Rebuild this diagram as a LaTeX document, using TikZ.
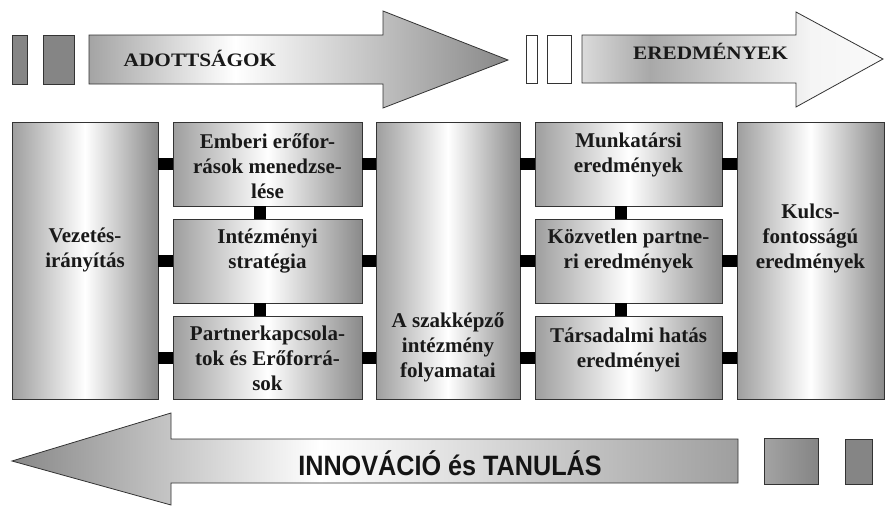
\documentclass[tikz,border=0pt]{standalone}
\usepackage{fontspec}
\setmainfont{Liberation Serif}
\newfontfamily\hdrfont[FakeStretch=1.12]{Liberation Serif}
\newfontfamily\innofont[FakeStretch=0.9]{Liberation Sans}
\begin{document}
\begin{tikzpicture}[x=1pt,y=-1pt,
  outline/.style={draw=black!80, line width=0.8pt},
  box/.style={outline, left color=black!38, right color=black!46, middle color=white, inner sep=0pt},
  bar/.style={line width=12pt, black},
  lbl/.style={font=\bfseries\fontsize{21}{25}\selectfont, align=center, text=black!90, inner sep=0pt},
  hdr/.style={font=\hdrfont\bfseries\fontsize{19}{22}\selectfont, text=black!90, inner sep=0pt, anchor=base},
  darkrect/.style={outline, fill=black!48},
  whiterect/.style={outline, fill=white}]
\useasboundingbox[fill=white] (0,0) rectangle (889,506);

% ---------- top arrow: ADOTTSAGOK ----------
\draw[darkrect] (12,35) rectangle (27,84);
\draw[darkrect] (43,35) rectangle (74,84);
\begin{scope}
  \clip (89,35) -- (383,35) -- (383,11) -- (508,60) -- (383,108) -- (383,84) -- (89,84) -- cycle;
  \shade[left color=black!36, right color=white] (88,0) rectangle (235,120);
  \shade[left color=white, right color=black!47] (235,0) rectangle (510,120);
\end{scope}
\draw[outline] (89,35) -- (383,35) -- (383,11) -- (508,60) -- (383,108) -- (383,84) -- (89,84) -- cycle;
\node[hdr] (adott) at (200,66) {ADOTTSÁGOK};

% ---------- top arrow: EREDMENYEK ----------
\draw[whiterect] (526,35) rectangle (537,83);
\draw[whiterect] (547,35) rectangle (571,83);
\begin{scope}
  \clip (582,35) -- (796,35) -- (796,12) -- (883,59) -- (796,107) -- (796,83) -- (582,83) -- cycle;
  \shade[left color=black!14, right color=black!34] (581,0) rectangle (650,120);
  \shade[left color=black!34, right color=black!4] (650,0) rectangle (810,120);
  \shade[left color=black!4, right color=black!2] (810,0) rectangle (885,120);
\end{scope}
\draw[outline] (582,35) -- (796,35) -- (796,12) -- (883,59) -- (796,107) -- (796,83) -- (582,83) -- cycle;
\node[hdr] (ered) at (710.5,59.5) {EREDMÉNYEK};

% ---------- boxes ----------
\node[box, minimum width=146pt, minimum height=277pt] (vez) at (85,260.5) {};
\node[box, minimum width=189pt, minimum height=84pt] (emb) at (267.5,164) {};
\node[box, minimum width=189pt, minimum height=84pt] (str) at (267.5,261) {};
\node[box, minimum width=189pt, minimum height=83pt] (par) at (267.5,357.5) {};
\node[box, minimum width=144pt, minimum height=277pt] (szak) at (448,260.5) {};
\node[box, minimum width=187pt, minimum height=84pt] (munk) at (628.5,164) {};
\node[box, minimum width=187pt, minimum height=84pt] (kozv) at (628.5,261) {};
\node[box, minimum width=187pt, minimum height=83pt] (tars) at (628.5,357.5) {};
\node[box, minimum width=147pt, minimum height=277pt] (kulcs) at (810.5,260.5) {};

% ---------- connectors ----------
\foreach \b in {emb,str,par}{
  \draw[bar] (vez.east |- \b.west) -- (\b.west);
  \draw[bar] (\b.east) -- (szak.west |- \b.east);
}
\foreach \b in {munk,kozv,tars}{
  \draw[bar] (szak.east |- \b.west) -- (\b.west);
  \draw[bar] (\b.east) -- (kulcs.west |- \b.east);
}
\draw[bar] ([xshift=-7.5pt]emb.south) -- ([xshift=-7.5pt]str.north);
\draw[bar] ([xshift=-7.5pt]str.south) -- ([xshift=-7.5pt]par.north);
\draw[bar] ([xshift=-7.5pt]munk.south) -- ([xshift=-7.5pt]kozv.north);
\draw[bar] ([xshift=-7.5pt]kozv.south) -- ([xshift=-7.5pt]tars.north);

% ---------- labels ----------
\node[lbl] (tvez) at (85,250) {Vezetés-\\irányítás};
\node[lbl] (temb) at (267.5,166.5) {Emberi erőfor-\\rások menedzse-\\lése};
\node[lbl] (tstr) at (267.5,251.5) {Intézményi\\stratégia};
\node[lbl] (tpar) at (267.5,358) {Partnerkapcsola-\\tok és Erőforrá-\\sok};
\node[lbl] (tszak) at (448,347) {A szakképző\\intézmény\\folyamatai};
\node[lbl] (tmunk) at (628.5,154.5) {Munkatársi\\eredmények};
\node[lbl] (tkozv) at (628.5,250.5) {Közvetlen partne-\\ri eredmények};
\node[lbl] (ttars) at (628.5,349.5) {Társadalmi hatás\\eredményei};
\node[lbl] (tkulcs) at (810.5,238) {Kulcs-\\fontosságú\\eredmények};

% ---------- bottom arrow: INNOVACIO es TANULAS ----------
\begin{scope}
  \clip (738,439) -- (171,439) -- (171,413) -- (12,461) -- (171,505) -- (171,483) -- (738,483) -- cycle;
  \shade[left color=black!47, right color=white] (10,400) rectangle (320,510);
  \shade[left color=white, right color=black!38] (320,400) rectangle (740,510);
\end{scope}
\draw[outline] (738,439) -- (171,439) -- (171,413) -- (12,461) -- (171,505) -- (171,483) -- (738,483) -- cycle;
\node[font=\innofont\bfseries\fontsize{28}{30}\selectfont, text=black!92, inner sep=0pt, anchor=base] (inno) at (450,475) {INNOVÁCIÓ és TANULÁS};
\draw[outline, left color=black!36, right color=black!48] (764,438) rectangle (818,484);
\draw[outline, fill=black!48] (845,439) rectangle (872,484);
\end{tikzpicture}
\end{document}
